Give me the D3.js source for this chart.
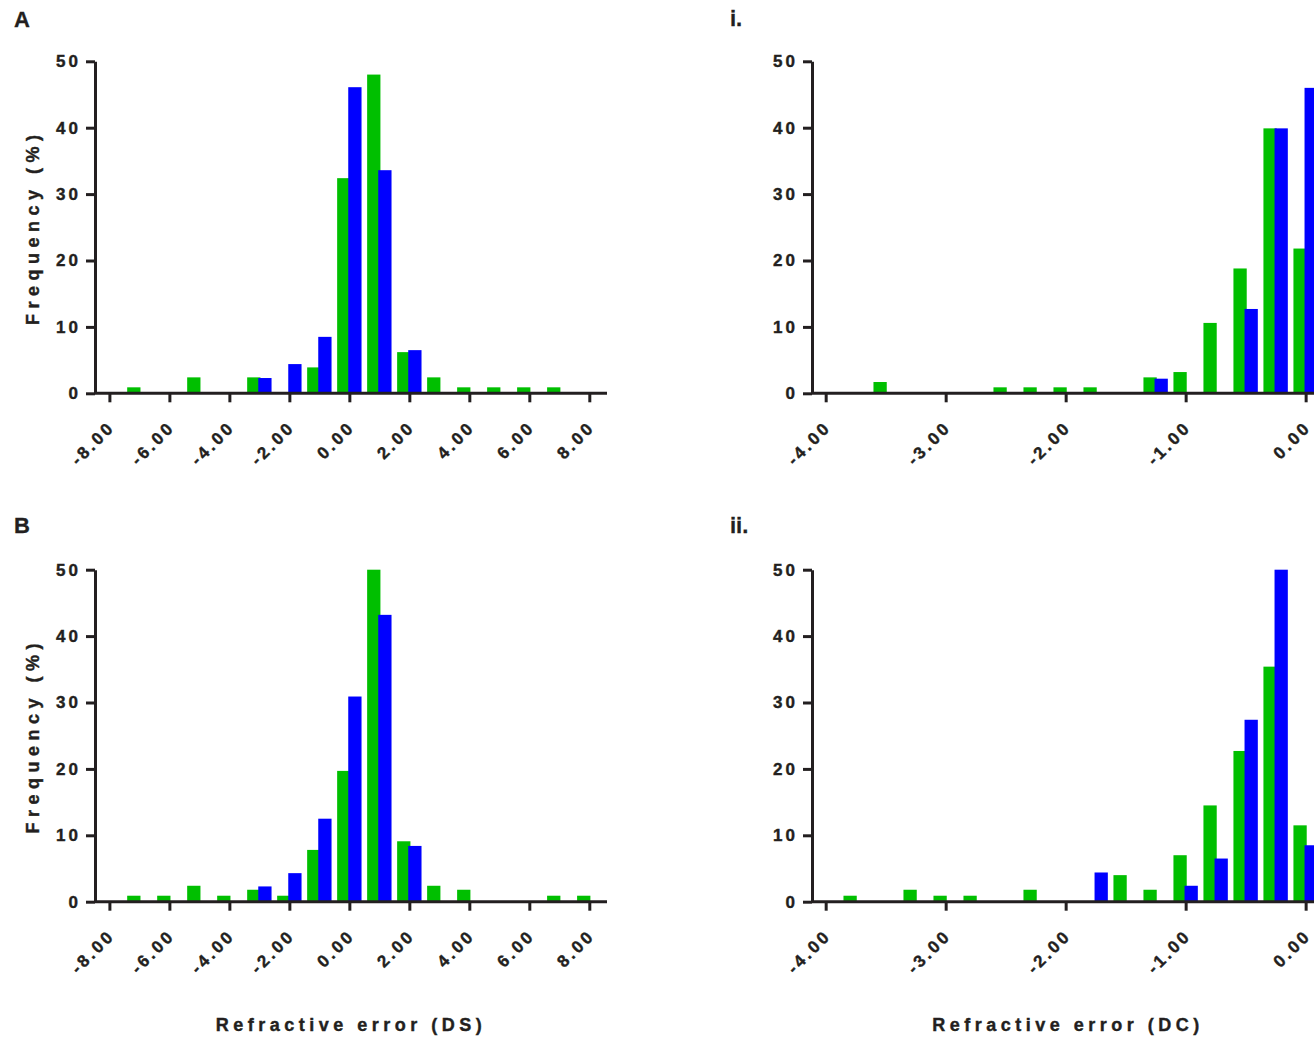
<!DOCTYPE html>
<html>
<head>
	<title>Refractive error histograms</title>
	<style type="text/css">
		body {
			margin: 0;
			background: #fff;
			font-family: "Liberation Sans", Arial, Helvetica, sans-serif;
		}
		.axis path, .axis line {
			stroke: #231f20;
			stroke-width: 3;
		}
		.axis text {
			font-size: 17px;
			font-weight: bold;
			fill: #231f20;
			stroke: #231f20;
			stroke-width: 0.4px;
			letter-spacing: 3px;
		}
		.panel-label {
			font-size: 22px;
			font-weight: bold;
			fill: #231f20;
			stroke: #231f20;
			stroke-width: 0.3px;
		}
		.axis-title {
			font-size: 18px;
			font-weight: bold;
			fill: #231f20;
			stroke: #231f20;
			stroke-width: 0.4px;
		}
	</style>
</head>
<body>
	<div id="chart"></div>
	<script src="https://d3js.org/d3.v7.min.js"></script>
	<script type="text/javascript">
		// spherical (DS) bins, 1 D apart
		var dsBins = [-8, -7, -6, -5, -4, -3, -2, -1, 0, 1, 2, 3, 4, 5, 6, 7, 8];
		var dsGreenA = [0, 0.9, 0, 2.4, 0, 2.4, 0, 3.9, 32.4, 48.0, 6.2, 2.4, 0.9, 0.9, 0.9, 0.9, 0];
		var dsBlueA  = [0, 0, 0, 0, 0, 2.3, 4.4, 8.5, 46.1, 33.6, 6.5, 0, 0, 0, 0, 0, 0];
		var dsGreenB = [0, 0.9, 0.9, 2.4, 0.9, 1.8, 0.9, 7.8, 19.7, 50.0, 9.1, 2.4, 1.8, 0, 0, 0.9, 0.9];
		var dsBlueB  = [0, 0, 0, 0, 0, 2.3, 4.3, 12.5, 30.9, 43.2, 8.4, 0, 0, 0, 0, 0, 0];

		// cylindrical (DC) bins, 0.25 D apart
		var dcBins = [-4, -3.75, -3.5, -3.25, -3, -2.75, -2.5, -2.25, -2, -1.75, -1.5, -1.25, -1, -0.75, -0.5, -0.25, 0];
		var dcGreenI  = [0, 0, 1.7, 0, 0, 0, 0.9, 0.9, 0.9, 0.9, 0, 2.4, 3.2, 10.6, 18.8, 39.9, 21.8];
		var dcBlueI   = [0, 0, 0, 0, 0, 0, 0, 0, 0, 0, 0, 2.2, 0, 0, 12.7, 39.9, 46.0];
		var dcGreenII = [0, 0.9, 0, 1.8, 0.9, 0.9, 0, 1.8, 0, 0, 4.0, 1.8, 7.0, 14.5, 22.7, 35.4, 11.5];
		var dcBlueII  = [0, 0, 0, 0, 0, 0, 0, 0, 0, 4.4, 0, 0, 2.4, 6.5, 27.4, 50.0, 8.5];

		var yTicks = [0, 10, 20, 30, 40, 50];
		var dsTicks = [-8, -6, -4, -2, 0, 2, 4, 6, 8];
		var dcTicks = [-4, -3, -2, -1, 0];

		var greenFill = '#00bf00',
			blueFill = '#0000ff';

		var width = 1314,
			height = 1041;

		var svg = d3.select('#chart')
			.append('svg')
			.attr('width', width)
			.attr('height', height);

		var panels = [
			{ label: 'A',   lx: 14,  ly: 27,  bins: dsBins, step: 1,    green: dsGreenA,  blue: dsBlueA,  ticks: dsTicks,
			  xDomain: [-8.48, 8.59],   xRange: [95, 607],   yRange: [393.3, 61.3], yTitle: true },
			{ label: 'i.',  lx: 730, ly: 26,  bins: dcBins, step: 0.25, green: dcGreenI,  blue: dcBlueI,  ticks: dcTicks,
			  xDomain: [-4.114, 0.153], xRange: [812, 1324], yRange: [393.3, 61.3], yTitle: false },
			{ label: 'B',   lx: 14,  ly: 533, bins: dsBins, step: 1,    green: dsGreenB,  blue: dsBlueB,  ticks: dsTicks,
			  xDomain: [-8.48, 8.59],   xRange: [95, 607],   yRange: [901.7, 569.7], yTitle: true, xTitle: 'Refractive error (DS)' },
			{ label: 'ii.', lx: 730, ly: 533, bins: dcBins, step: 0.25, green: dcGreenII, blue: dcBlueII, ticks: dcTicks,
			  xDomain: [-4.114, 0.153], xRange: [812, 1324], yRange: [901.7, 569.7], yTitle: false, xTitle: 'Refractive error (DC)' }
		];

		panels.forEach(drawPanel);

		function drawPanel(p) {
			var x = d3.scaleLinear().domain(p.xDomain).range(p.xRange),
				y = d3.scaleLinear().domain([0, 50]).range(p.yRange);

			var stepPx = x(p.step) - x(0),
				barW = 0.443 * stepPx;

			var g = svg.append('g');

			// green behind, blue in front
			g.selectAll('rect.green')
				.data(p.bins.map(function(b, i) { return { bin: b, v: p.green[i] }; }).filter(function(d) { return d.v > 0; }))
				.enter()
				.append('rect')
				.attr('class', 'green')
				.attr('x', function(d) { return x(d.bin) - 0.407 * stepPx; })
				.attr('width', barW)
				.attr('y', function(d) { return y(d.v); })
				.attr('height', function(d) { return y(0) - y(d.v); })
				.style('fill', greenFill);

			g.selectAll('rect.blue')
				.data(p.bins.map(function(b, i) { return { bin: b, v: p.blue[i] }; }).filter(function(d) { return d.v > 0; }))
				.enter()
				.append('rect')
				.attr('class', 'blue')
				.attr('x', function(d) { return x(d.bin) - 0.037 * stepPx; })
				.attr('width', barW)
				.attr('y', function(d) { return y(d.v); })
				.attr('height', function(d) { return y(0) - y(d.v); })
				.style('fill', blueFill);

			// y axis
			svg.append('g')
				.attr('class', 'axis')
				.attr('transform', 'translate(' + p.xRange[0] + ',0)')
				.call(d3.axisLeft(y).tickValues(yTicks).tickSize(9).tickSizeOuter(0).tickPadding(5).tickFormat(d3.format('d')));

			// x axis
			var xa = svg.append('g')
				.attr('class', 'axis')
				.attr('transform', 'translate(0,' + p.yRange[0] + ')')
				.call(d3.axisBottom(x).tickValues(p.ticks).tickSize(9).tickSizeOuter(0)
					.tickFormat(function(d) { return d.toFixed(2); }));

			xa.select('.domain').attr('d', 'M' + p.xRange[0] + ',0H' + p.xRange[1]);

			xa.selectAll('.tick text')
				.attr('y', 0)
				.attr('dy', 0)
				.attr('text-anchor', 'end')
				.attr('transform', 'translate(6,35) rotate(-45)');

			svg.append('text')
				.attr('class', 'panel-label')
				.attr('x', p.lx)
				.attr('y', p.ly)
				.text(p.label);

			if (p.yTitle) {
				var cy = (p.yRange[0] + p.yRange[1]) / 2;
				svg.append('text')
					.attr('class', 'axis-title')
					.attr('text-anchor', 'middle')
					.attr('transform', 'translate(39,' + cy + ') rotate(-90)')
					.style('letter-spacing', '5.5px')
					.text('Frequency (%)');
			}

			if (p.xTitle) {
				svg.append('text')
					.attr('class', 'axis-title')
					.attr('text-anchor', 'middle')
					.attr('x', (p.xRange[0] + p.xRange[1]) / 2)
					.attr('y', 1031)
					.style('letter-spacing', '4.5px')
					.text(p.xTitle);
			}
		}
	</script>
</body>
</html>
